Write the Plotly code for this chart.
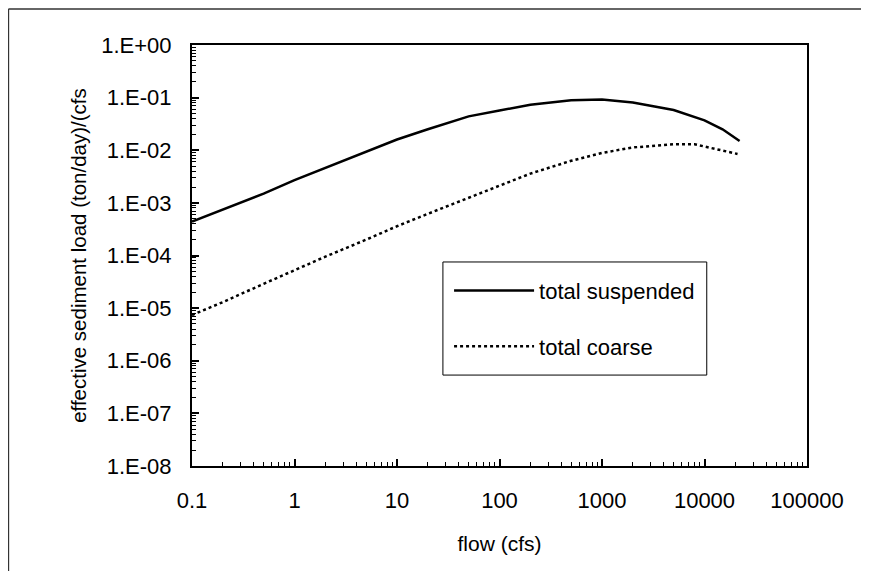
import plotly.graph_objects as go

# Data
flow_suspended = [0.1, 0.2, 0.5, 1, 2, 5, 10, 20, 50, 100, 200, 500, 1000, 2000, 5000, 10000, 15000, 22000]
total_suspended = [4.4e-4, 7.5e-4, 1.5e-3, 2.7e-3, 4.6e-3, 9.2e-3, 1.6e-2, 2.5e-2, 4.4e-2, 5.7e-2,
                   7.3e-2, 8.9e-2, 9.2e-2, 8.1e-2, 5.8e-2, 3.7e-2, 2.5e-2, 1.5e-2]

flow_coarse = [0.1, 0.2, 0.5, 1, 2, 5, 10, 20, 50, 100, 200, 500, 1000, 2000, 5000, 8000, 12000, 21000]
total_coarse = [7.4e-6, 1.3e-5, 2.9e-5, 5.3e-5, 9.5e-5, 2.0e-4, 3.6e-4, 6.2e-4, 1.25e-3, 2.1e-3,
                3.6e-3, 6.3e-3, 8.9e-3, 1.13e-2, 1.3e-2, 1.3e-2, 1.1e-2, 8.5e-3]

x_tickvals = [0.1, 1, 10, 100, 1000, 10000, 100000]
x_ticktext = ["0.1", "1", "10", "100", "1000", "10000", "100000"]
y_tickvals = [1e0, 1e-1, 1e-2, 1e-3, 1e-4, 1e-5, 1e-6, 1e-7, 1e-8]
y_ticktext = ["1.E+00", "1.E-01", "1.E-02", "1.E-03", "1.E-04", "1.E-05", "1.E-06", "1.E-07", "1.E-08"]

FONT = "Liberation Sans, Arial, sans-serif"

fig = go.Figure()
fig.add_trace(go.Scatter(x=flow_suspended, y=total_suspended, mode="lines",
                         name="total suspended", legendgroup="a",
                         line=dict(color="black", width=2.5)))
fig.add_trace(go.Scatter(x=flow_coarse, y=total_coarse, mode="lines",
                         name="total coarse", legendgroup="b",
                         line=dict(color="black", width=2.5, dash="dot")))

axis_common = dict(showline=True, linecolor="black", linewidth=2, mirror=True,
                   ticks="inside", ticklen=7, tickwidth=1.5, tickcolor="black",
                   showgrid=False, zeroline=False,
                   minor=dict(ticks="inside", ticklen=4, tickwidth=1, tickcolor="black",
                              showgrid=False, dtick="D1"),
                   tickfont=dict(family=FONT, size=22, color="black"))

fig.update_xaxes(type="log", range=[-1, 5], tickvals=x_tickvals, ticktext=x_ticktext,
                 title=dict(text="flow (cfs)", font=dict(family=FONT, size=21, color="black"), standoff=24),
                 ticklabelstandoff=14, **axis_common)
fig.update_yaxes(type="log", range=[-8, 0], tickvals=y_tickvals, ticktext=y_ticktext,
                 title=dict(text="effective sediment load (ton/day)/(cfs", font=dict(family=FONT, size=20.5, color="black"), standoff=9),
                 ticklabelstandoff=14, **axis_common)

# outer frame (top and left edges visible in the scan)
fig.add_shape(type="line", xref="paper", yref="paper", x0=-0.2985, x1=1.12, y0=1.0855, y1=1.0855,
              line=dict(color="#333", width=1.5))
fig.add_shape(type="line", xref="paper", yref="paper", x0=-0.2985, x1=-0.2985, y0=1.0855, y1=-0.30,
              line=dict(color="#333", width=1.5))

# legend box
fig.add_shape(type="rect", xref="paper", yref="paper", x0=0.408, x1=0.837, y0=0.216, y1=0.4846,
              line=dict(color="black", width=1), fillcolor="white", layer="below")

# page body has an 8px offset, so margins are compensated
fig.update_layout(
    width=869, height=571,
    margin=dict(l=184, r=70, t=37, b=113, autoexpand=False),
    paper_bgcolor="white", plot_bgcolor="rgba(0,0,0,0)",
    font=dict(family=FONT, color="black"),
    legend=dict(x=0.418, y=0.466, xanchor="left", yanchor="top",
                borderwidth=0, bgcolor="rgba(0,0,0,0)",
                font=dict(family=FONT, size=22, color="black"),
                tracegroupgap=24, traceorder="grouped",
                itemwidth=80),
    showlegend=True,
)

fig.write_html("out.html")
